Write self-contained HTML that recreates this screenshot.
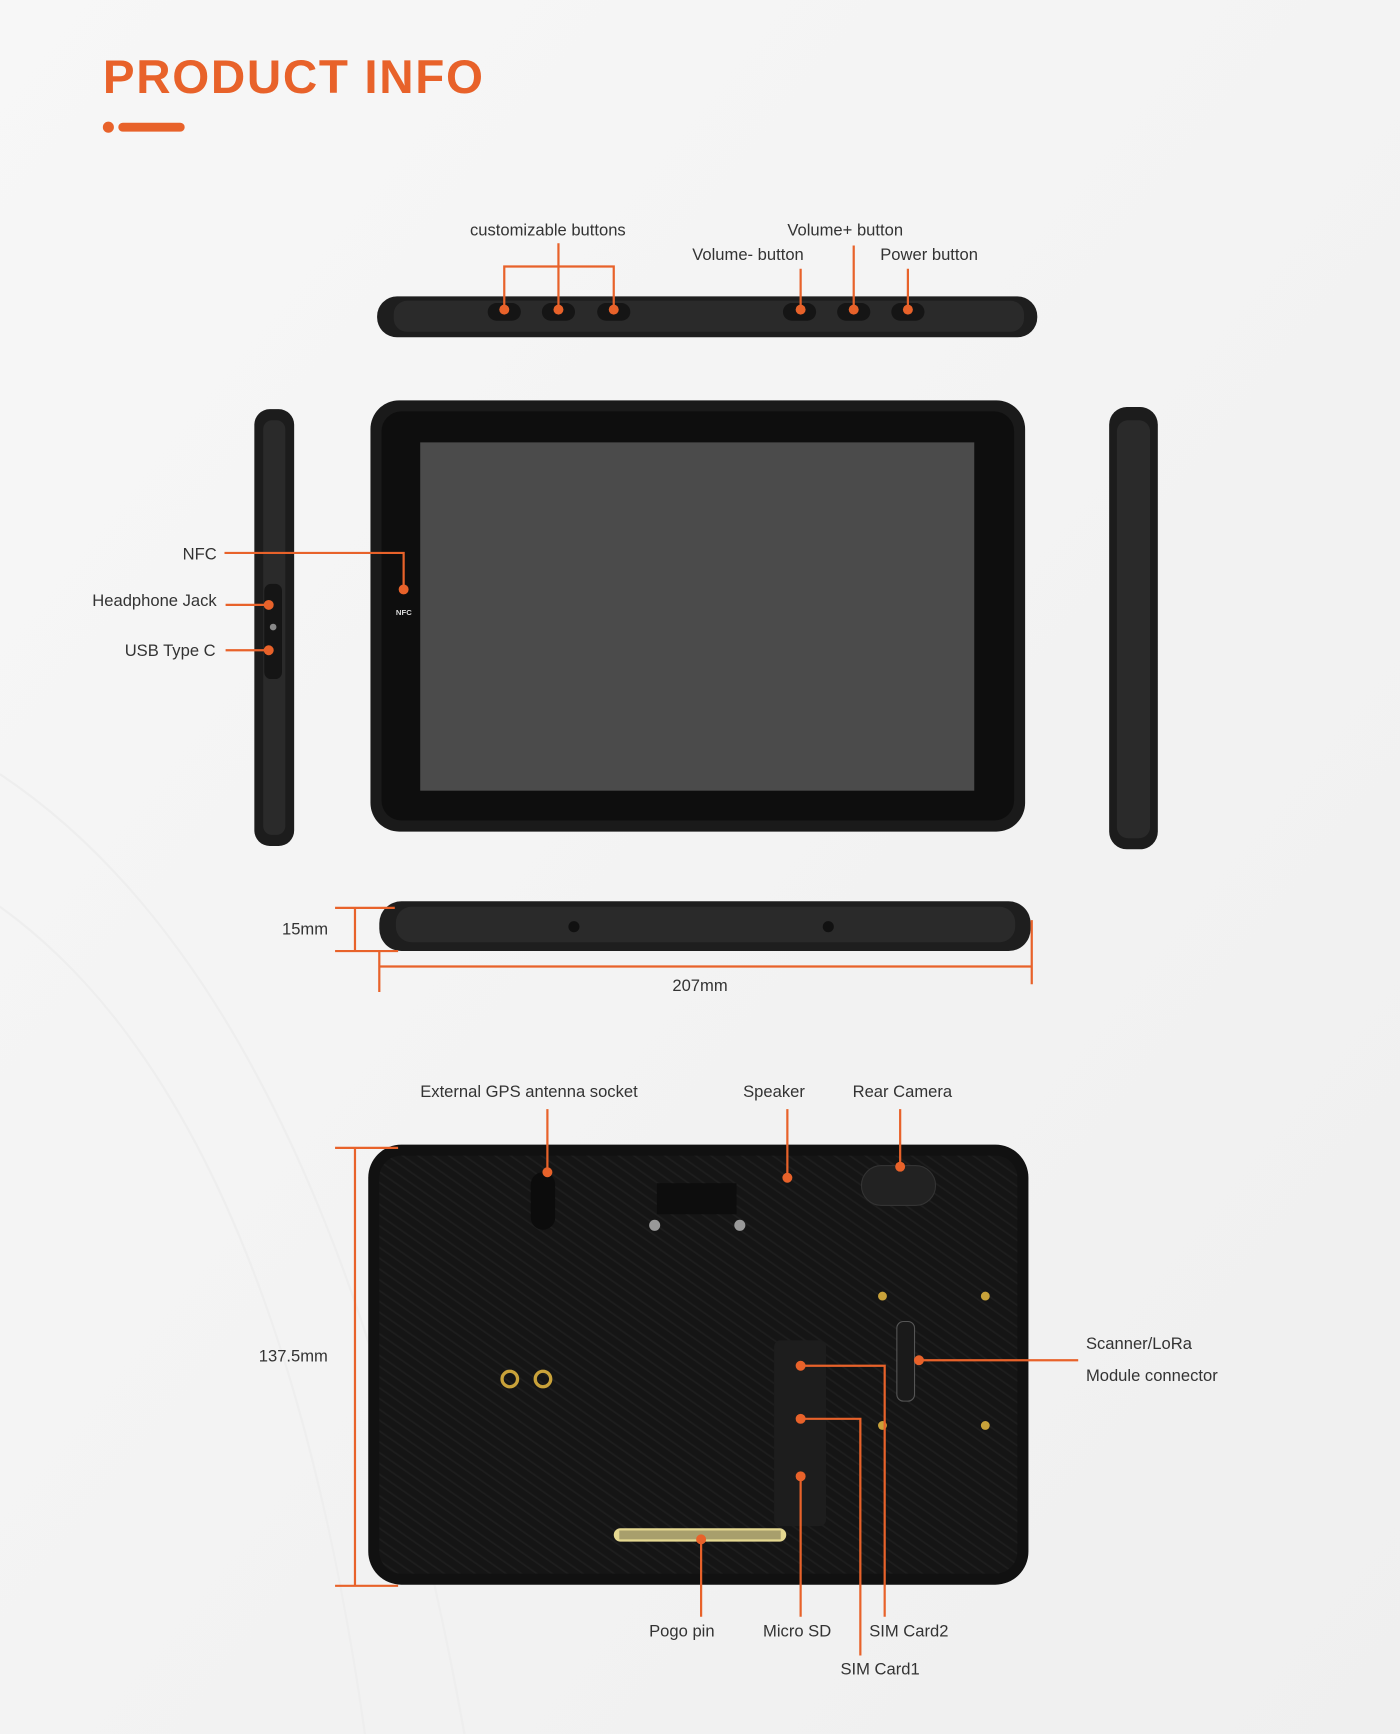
<!DOCTYPE html>
<html><head><meta charset="utf-8"><style>
html,body{margin:0;padding:0;background:#f4f4f4;}
svg{display:block}
text{font-family:"Liberation Sans",sans-serif;font-size:15px;fill:#333}
</style></head><body>
<svg width="1400" height="1734" viewBox="0 0 1266 1568" xmlns="http://www.w3.org/2000/svg">
<defs>
<linearGradient id="bg" x1="0" y1="0" x2="1" y2="1"><stop offset="0" stop-color="#f7f7f7"/><stop offset="1" stop-color="#efefef"/></linearGradient>
<pattern id="diag" width="8" height="8" patternUnits="userSpaceOnUse" patternTransform="rotate(-55)"><rect width="8" height="8" fill="#151515"/><rect width="1.5" height="8" fill="#1e1e1e"/></pattern>
</defs>
<rect width="1266" height="1568" fill="url(#bg)"/>
<path d="M0 700 Q300 900 420 1568" stroke="#eeeeee" stroke-width="2" fill="none"/>
<path d="M0 820 Q250 1000 330 1568" stroke="#eeeeee" stroke-width="2" fill="none"/>

<text x="93" y="84" style="font-size:43px;font-weight:bold;fill:#e8622a;letter-spacing:1.5px">PRODUCT INFO</text>
<circle cx="98" cy="115" r="5" fill="#e8622a"/>
<rect x="107" y="111" width="60" height="8" rx="4" fill="#e8622a"/>

<!-- top edge -->
<rect x="341" y="268" width="597" height="37" rx="18" fill="#1e1e1e"/>
<rect x="356" y="272" width="570" height="28" rx="12" fill="#2a2a2a"/>
<g fill="#151515"><rect x="441" y="274" width="30" height="16" rx="8"/><rect x="490" y="274" width="30" height="16" rx="8"/><rect x="540" y="274" width="30" height="16" rx="8"/><rect x="708" y="274" width="30" height="16" rx="8"/><rect x="757" y="274" width="30" height="16" rx="8"/><rect x="806" y="274" width="30" height="16" rx="8"/></g>

<!-- front -->
<rect x="335" y="362" width="592" height="390" rx="26" fill="#1a1a1a"/>
<rect x="345" y="372" width="572" height="370" rx="18" fill="#0e0e0e"/>
<rect x="380" y="400" width="501" height="315" fill="#4b4b4b"/>
<text x="358" y="556" style="font-size:7px;fill:#ddd;font-weight:bold">NFC</text>

<!-- left side -->
<rect x="230" y="370" width="36" height="395" rx="14" fill="#1c1c1c"/>
<rect x="238" y="380" width="20" height="375" rx="8" fill="#2a2a2a"/>
<rect x="239" y="528" width="16" height="86" rx="6" fill="#151515"/>
<circle cx="247" cy="567" r="3" fill="#888"/>
<!-- right side -->
<rect x="1003" y="368" width="44" height="400" rx="16" fill="#1c1c1c"/>
<rect x="1010" y="380" width="30" height="378" rx="10" fill="#2a2a2a"/>

<!-- bottom edge -->
<rect x="343" y="815" width="589" height="45" rx="20" fill="#1e1e1e"/>
<rect x="358" y="820" width="560" height="32" rx="14" fill="#2a2a2a"/>
<circle cx="519" cy="838" r="5" fill="#111"/><circle cx="749" cy="838" r="5" fill="#111"/>

<!-- back -->
<rect x="333" y="1035" width="597" height="398" rx="30" fill="#111"/>
<rect x="343" y="1045" width="577" height="378" rx="20" fill="url(#diag)"/>
<rect x="480" y="1060" width="22" height="52" rx="11" fill="#0c0c0c"/>
<rect x="594" y="1070" width="72" height="28" fill="#0d0d0d"/>
<circle cx="592" cy="1108" r="5" fill="#999"/><circle cx="669" cy="1108" r="5" fill="#999"/>
<rect x="779" y="1054" width="67" height="36" rx="18" fill="#222" stroke="#333"/>
<circle cx="461" cy="1247" r="7" fill="none" stroke="#c9a23a" stroke-width="3"/>
<circle cx="491" cy="1247" r="7" fill="none" stroke="#c9a23a" stroke-width="3"/>
<rect x="700" y="1212" width="47" height="168" rx="6" fill="#1d1d1d"/>
<rect x="811" y="1195" width="16" height="72" rx="6" fill="#1a1a1a" stroke="#555"/>
<g fill="#c9a23a"><circle cx="798" cy="1172" r="4"/><circle cx="891" cy="1172" r="4"/><circle cx="798" cy="1289" r="4"/><circle cx="891" cy="1289" r="4"/></g>
<rect x="555" y="1382" width="156" height="12" rx="6" fill="#e5d890"/>
<rect x="560" y="1384" width="146" height="8" fill="#1a1a1a" opacity="0.3"/>

<!-- orange annotations -->
<g stroke="#e8622a" stroke-width="2" fill="none">
<path d="M505 220V241M456 280V241H555V280M505 241V280"/>
<path d="M772 222V280M724 243V280M821 243V280"/>
<path d="M203 500H365V533M204 547H243M204 588H243"/>
<path d="M303 821H357M303 860H360M321 821V860"/>
<path d="M343 860V897M933 832V890M343 874H933"/>
<path d="M303 1038H360M303 1434H360M321 1038V1434"/>
<path d="M495 1003V1060M712 1003V1065M814 1003V1055"/>
<path d="M831 1230H975"/>
<path d="M724 1235H800V1462M724 1283H778V1497M724 1335V1462M634 1392V1462"/>
</g>
<g fill="#e8622a">
<circle cx="456" cy="280" r="4.5"/><circle cx="505" cy="280" r="4.5"/><circle cx="555" cy="280" r="4.5"/>
<circle cx="724" cy="280" r="4.5"/><circle cx="772" cy="280" r="4.5"/><circle cx="821" cy="280" r="4.5"/>
<circle cx="365" cy="533" r="4.5"/><circle cx="243" cy="547" r="4.5"/><circle cx="243" cy="588" r="4.5"/>
<circle cx="495" cy="1060" r="4.5"/><circle cx="712" cy="1065" r="4.5"/><circle cx="814" cy="1055" r="4.5"/>
<circle cx="831" cy="1230" r="4.5"/><circle cx="724" cy="1235" r="4.5"/><circle cx="724" cy="1283" r="4.5"/>
<circle cx="724" cy="1335" r="4.5"/><circle cx="634" cy="1392" r="4.5"/>
</g>

<text x="425" y="213">customizable buttons</text>
<text x="712" y="213">Volume+ button</text>
<text x="626" y="235">Volume- button</text>
<text x="796" y="235">Power button</text>
<text x="196" y="506" text-anchor="end">NFC</text>
<text x="196" y="548" text-anchor="end">Headphone Jack</text>
<text x="195" y="593" text-anchor="end">USB Type C</text>
<text x="255" y="845">15mm</text>
<text x="608" y="896">207mm</text>
<text x="234" y="1231">137.5mm</text>
<text x="380" y="992">External GPS antenna socket</text>
<text x="672" y="992">Speaker</text>
<text x="771" y="992">Rear Camera</text>
<text x="982" y="1220">Scanner/LoRa</text>
<text x="982" y="1249">Module connector</text>
<text x="587" y="1480">Pogo pin</text>
<text x="690" y="1480">Micro SD</text>
<text x="786" y="1480">SIM Card2</text>
<text x="760" y="1514">SIM Card1</text>
</svg>
</body></html>
